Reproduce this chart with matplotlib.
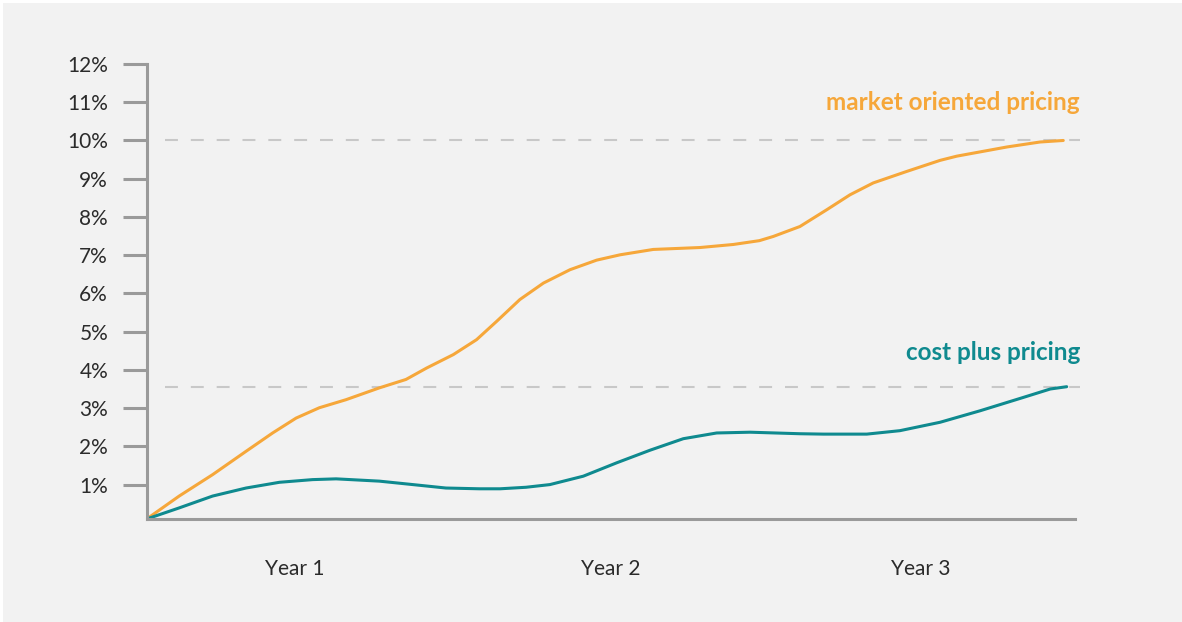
import matplotlib
matplotlib.use("Agg")
import matplotlib.pyplot as plt
from matplotlib.patches import Rectangle

# values (x: 0..3 years, y: percent)
market_x = [0.0, 0.105, 0.213, 0.321, 0.407, 0.483, 0.558, 0.644, 0.752, 0.838,
            0.905, 0.991, 1.066, 1.131, 1.206, 1.282, 1.368, 1.454, 1.53, 1.637,
            1.788, 1.896, 1.98, 2.025, 2.111, 2.198, 2.273, 2.348, 2.456, 2.564,
            2.618, 2.78, 2.887, 2.962]
market_y = [0.1, 0.70, 1.26, 1.87, 2.35, 2.74, 3.01, 3.22, 3.53, 3.75,
            4.05, 4.40, 4.79, 5.27, 5.84, 6.27, 6.62, 6.87, 7.01, 7.15,
            7.20, 7.28, 7.38, 7.49, 7.75, 8.19, 8.58, 8.89, 9.19, 9.48,
            9.59, 9.83, 9.96, 10.0]

cost_x = [0.0, 0.105, 0.213, 0.321, 0.429, 0.536, 0.612, 0.752, 0.86, 0.967,
          1.075, 1.142, 1.226, 1.303, 1.411, 1.519, 1.627, 1.734, 1.842, 1.95,
          2.111, 2.187, 2.327, 2.434, 2.564, 2.693, 2.833, 2.92, 2.973]
cost_y = [0.1, 0.39, 0.70, 0.91, 1.06, 1.13, 1.15, 1.09, 1.00, 0.91,
          0.89, 0.89, 0.93, 1.00, 1.22, 1.57, 1.90, 2.20, 2.35, 2.37,
          2.33, 2.32, 2.32, 2.41, 2.63, 2.93, 3.28, 3.50, 3.56]

target_market = 10.0
target_cost = 3.55

yticks = list(range(1, 13))
ytick_labels = [f"{t}%" for t in yticks]
year_pos = [0.48, 1.5, 2.5]
year_labels = ["Year 1", "Year 2", "Year 3"]

orange = "#f6a73a"
teal = "#0f8a8f"
axis_gray = "#9a9a9a"

plt.rcParams["font.family"] = ["Lato", "DejaVu Sans"]

fig = plt.figure(figsize=(11.82, 6.22), dpi=100, facecolor="white")
fig.patches.append(Rectangle((3 / 1182, 0), 1, 1 - 3 / 622, transform=fig.transFigure,
                             facecolor="#f2f2f2", edgecolor="none", zorder=-10))
ax = fig.add_axes([0.1241, 0.1656, 0.7854, 0.7315])
ax.set_facecolor("none")

ax.plot([0.059, 3.016], [target_market] * 2, color="#c8c8c8", lw=1.5,
        linestyle=(0, (6.2, 6.2)), clip_on=False)
ax.plot([0.059, 3.016], [target_cost] * 2, color="#c8c8c8", lw=1.5,
        linestyle=(0, (6.2, 6.2)), clip_on=False)

ax.plot(market_x, market_y, color=orange, lw=2.2, solid_capstyle="round",
        solid_joinstyle="round")
ax.plot(cost_x, cost_y, color=teal, lw=2.2, solid_capstyle="round",
        solid_joinstyle="round")

ax.set_xlim(0, 3)
ax.set_ylim(0.1, 12)

for s in ["top", "right"]:
    ax.spines[s].set_visible(False)
for s in ["left", "bottom"]:
    ax.spines[s].set_color(axis_gray)
    ax.spines[s].set_linewidth(2.2)

ax.set_yticks(yticks)
ax.set_yticklabels(ytick_labels)
ax.tick_params(axis="y", length=17.3, width=2.2, color=axis_gray, pad=10.5,
               labelsize=15, labelcolor="#2b2b2b")
ax.set_xticks(year_pos)
ax.set_xticklabels(year_labels)
ax.tick_params(axis="x", length=0, pad=29, labelsize=15, labelcolor="#2b2b2b")

ax.text(3.016, 10.79, "market oriented pricing", color=orange, fontsize=17.5,
        fontweight="bold", ha="right", va="baseline")
ax.text(3.016, 4.27, "cost plus pricing", color=teal, fontsize=17.5,
        fontweight="bold", ha="right", va="baseline")

fig.savefig("out.png", dpi=100, facecolor=fig.get_facecolor())
